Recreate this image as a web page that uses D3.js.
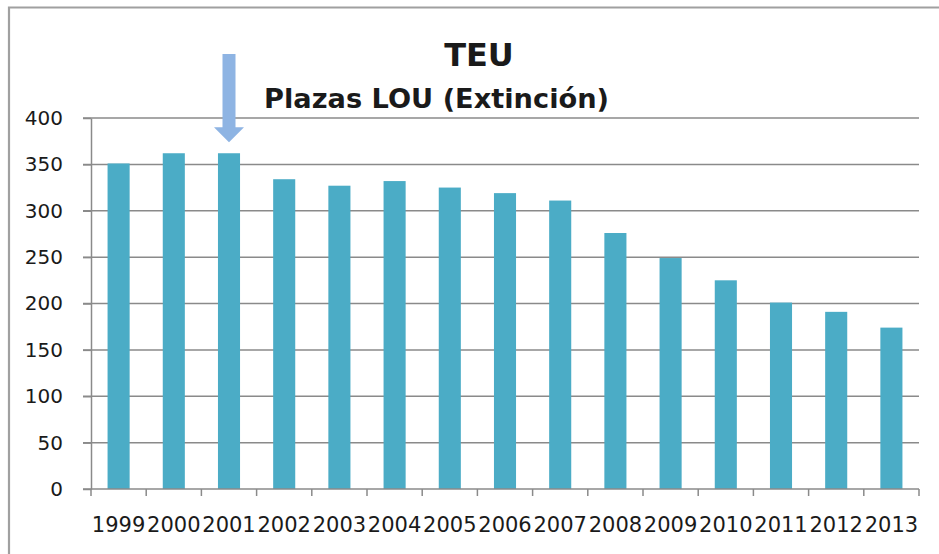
<!DOCTYPE html>
<html>
<head>
<meta charset="utf-8">
<script src="https://cdn.jsdelivr.net/npm/d3@7"></script>
<style>
  html, body { margin: 0; padding: 0; background: #fff; }
  svg { display: block; }
  text { font-family: "DejaVu Sans", sans-serif; fill: #1a1a1a; }
</style>
</head>
<body>
<svg id="chart" width="939" height="554"></svg>
<script>
const years = ["1999","2000","2001","2002","2003","2004","2005","2006","2007","2008","2009","2010","2011","2012","2013"];
const values = [351, 362, 362, 334, 327, 332, 325, 319, 311, 276, 249, 225, 201, 191, 174];
const yTicks = [0, 50, 100, 150, 200, 250, 300, 350, 400];
const title = "TEU";
const subtitle = "Plazas LOU (Extinción)";
const markedYear = "2001";

const svg = d3.select("#chart");
const W = 939, H = 554;
const m = {left: 91, right: 20, top: 118, bottom: 65};

svg.append("rect").attr("width", W).attr("height", H).attr("fill", "#fff");
// outer frame (left and top visible)
svg.append("path")
  .attr("d", `M9,${H} L9,7.5 L${W},7.5`)
  .attr("fill", "none").attr("stroke", "#a0a0a0").attr("stroke-width", 2.2);

const x = d3.scaleBand().domain(years).range([m.left, W - m.right]).paddingInner(0.6).paddingOuter(0.3);
const y = d3.scaleLinear().domain([0, 400]).range([H - m.bottom, m.top]);

// gridlines
const grid = svg.append("g");
grid.selectAll("line").data(yTicks.filter(d => d > 0)).join("line")
  .attr("x1", m.left - 8).attr("x2", W - m.right)
  .attr("y1", d => y(d)).attr("y2", d => y(d))
  .attr("stroke", "#8a8a8a").attr("stroke-width", 1.5);

// bars
svg.append("g").selectAll("rect").data(values).join("rect")
  .attr("x", (d, i) => x(years[i]))
  .attr("width", x.bandwidth())
  .attr("y", d => y(d))
  .attr("height", d => y(0) - y(d))
  .attr("fill", "#4BACC6");

// y axis
const yAxis = svg.append("g").attr("transform", `translate(${m.left},0)`)
  .call(d3.axisLeft(y).tickValues(yTicks).tickSize(8).tickPadding(20).tickSizeOuter(0));
yAxis.select(".domain").attr("stroke", "#8a8a8a").attr("stroke-width", 1.5);
yAxis.selectAll(".tick line").attr("stroke", "#8a8a8a").attr("stroke-width", 1.5);
yAxis.selectAll(".tick text").attr("font-size", 20).attr("font-family", "DejaVu Sans").attr("fill", "#1a1a1a");

// x axis
const bounds = d3.range(years.length + 1).map(i => m.left + i * (W - m.right - m.left) / years.length);
const xg = svg.append("g");
xg.append("line").attr("x1", m.left - 8).attr("x2", W - m.right)
  .attr("y1", y(0)).attr("y2", y(0)).attr("stroke", "#8a8a8a").attr("stroke-width", 1.5);
xg.selectAll("line.tk").data(bounds).join("line").attr("class", "tk")
  .attr("x1", d => d).attr("x2", d => d)
  .attr("y1", y(0)).attr("y2", y(0) + 7)
  .attr("stroke", "#8a8a8a").attr("stroke-width", 1.5);
xg.selectAll("text").data(years).join("text")
  .attr("x", d => x(d) + x.bandwidth() / 2)
  .attr("y", y(0) + 43)
  .attr("text-anchor", "middle")
  .attr("font-size", 21)
  .text(d => d);

// titles
svg.append("text").attr("x", 479).attr("y", 66).attr("text-anchor", "middle")
  .attr("font-size", 32).attr("font-weight", "bold").attr("fill", "#000").text(title);
svg.append("text").attr("x", 264).attr("y", 108)
  .attr("font-size", 26).attr("font-weight", "bold").attr("fill", "#000")
  .attr("textLength", 345).attr("lengthAdjust", "spacingAndGlyphs")
  .text(subtitle);

// arrow pointing at marked year
const ax = x(markedYear) + x.bandwidth() / 2;
const tipY = y(values[years.indexOf(markedYear)]) - 11;
svg.append("path")
  .attr("d", `M${ax - 6.5},54 L${ax + 6.5},54 L${ax + 6.5},${tipY - 15} L${ax + 15},${tipY - 15} L${ax},${tipY} L${ax - 15},${tipY - 15} L${ax - 6.5},${tipY - 15} Z`)
  .attr("fill", "#8EB4E3");
</script>
</body>
</html>
